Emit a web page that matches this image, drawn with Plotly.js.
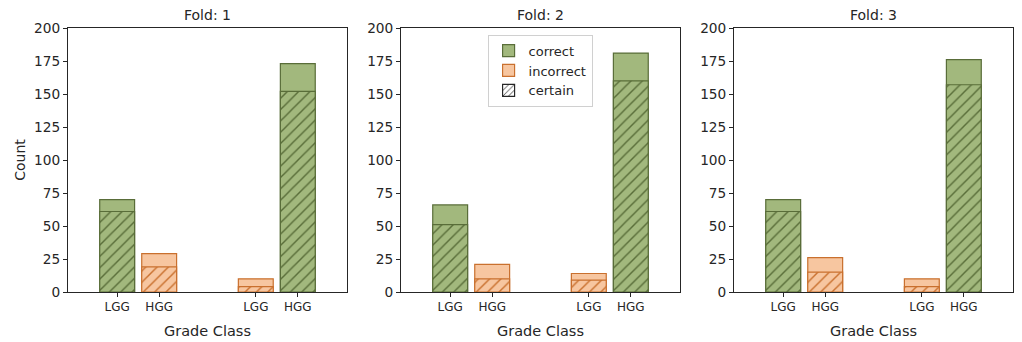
<!DOCTYPE html>
<html>
<head>
<meta charset="utf-8">
<script src="https://cdn.plot.ly/plotly-3.0.1.min.js"></script>
<style>
  html, body { margin: 0; padding: 0; background: #fff; }
  #chart { width: 1022px; height: 342px; }
</style>
</head>
<body>
<div id="chart"></div>
<script>
// Per-fold prediction counts, bars ordered as true LGG -> (LGG, HGG), true HGG -> (LGG, HGG)
const foldTitles = ['Fold: 1', 'Fold: 2', 'Fold: 3'];
const tickLabels = ['LGG', 'HGG', 'LGG', 'HGG'];
const isCorrect = [true, false, false, true];

const totalFold1 = [70, 29, 10, 173];
const totalFold2 = [66, 21, 14, 181];
const totalFold3 = [70, 26, 10, 176];

const certainFold1 = [61, 19, 4, 152];
const certainFold2 = [51, 10, 9, 160];
const certainFold3 = [61, 15, 4, 157];

const totals = [totalFold1, totalFold2, totalFold3];
const certains = [certainFold1, certainFold2, certainFold3];

// bar layout on the numeric x axis
const barPos = [0, 1, 3.3, 4.3];
const barWidth = 0.83;

const style = {
  correct:   { fill: '#a2b87d', edge: '#596d39' },
  incorrect: { fill: '#f7c6a0', edge: '#c9702e' }
};

const axisLine = '#262626';
const textColor = '#262626';
const font = 'DejaVu Sans, sans-serif';

function pick(arr, want) {
  return arr.filter((_, i) => isCorrect[i] === want);
}

const traces = [];
const layout = {
  width: 1022,
  height: 342,
  margin: { l: 68, r: 9, t: 28, b: 50 },
  paper_bgcolor: '#fff',
  plot_bgcolor: '#fff',
  barmode: 'overlay',
  font: { family: font, color: textColor, size: 13 },
  showlegend: true,
  legend: {
    x: 0.444, y: 0.975, xanchor: 'left', yanchor: 'top',
    bgcolor: 'rgba(255,255,255,0.9)', bordercolor: '#d0d0d0', borderwidth: 1,
    font: { size: 13, family: font, color: textColor },
    tracegroupgap: 0, itemwidth: 30
  },
  annotations: []
};

const domains = [[0, 0.2952], [0.3524, 0.6476], [0.7048, 1]];

foldTitles.forEach((title, f) => {
  const xa = f === 0 ? 'x' : 'x' + (f + 1);
  const ya = f === 0 ? 'y' : 'y' + (f + 1);
  const first = f === 1;

  // full-height bars (all predictions)
  ['correct', 'incorrect'].forEach(kind => {
    const want = kind === 'correct';
    traces.push({
      type: 'bar', xaxis: xa, yaxis: ya,
      x: pick(barPos, want), y: pick(totals[f], want),
      width: barWidth,
      name: kind, legendgroup: kind, showlegend: first,
      marker: { color: style[kind].fill, line: { color: style[kind].edge, width: 1.2 } },
      hoverinfo: 'y'
    });
  });
  // hatched bars overlaid for the certain predictions
  ['correct', 'incorrect'].forEach(kind => {
    const want = kind === 'correct';
    traces.push({
      type: 'bar', xaxis: xa, yaxis: ya,
      x: pick(barPos, want), y: pick(certains[f], want),
      width: barWidth,
      name: kind + ' (certain)', showlegend: false,
      marker: {
        color: style[kind].fill,
        line: { color: style[kind].edge, width: 1.2 },
        pattern: { shape: '/', fgcolor: style[kind].edge, bgcolor: style[kind].fill, size: 8, solidity: 0.18 }
      },
      hoverinfo: 'y'
    });
  });

  const xKey = f === 0 ? 'xaxis' : 'xaxis' + (f + 1);
  const yKey = f === 0 ? 'yaxis' : 'yaxis' + (f + 1);
  layout[xKey] = {
    domain: domains[f], anchor: ya,
    range: [-1.17, 5.47],
    tickmode: 'array', tickvals: barPos, ticktext: tickLabels,
    tickfont: { size: 12, family: font, color: textColor },
    ticks: 'outside', ticklen: 4, tickcolor: axisLine, tickwidth: 1,
    showline: true, mirror: true, linecolor: axisLine, linewidth: 1,
    showgrid: false, zeroline: false,
    title: { text: 'Grade Class', font: { size: 14.5, family: font, color: textColor }, standoff: 12 }
  };
  layout[yKey] = {
    domain: [0, 1], anchor: xa,
    range: [0, 200], tickmode: 'linear', tick0: 0, dtick: 25,
    tickfont: { size: 13.7, family: font, color: textColor },
    ticks: 'outside', ticklen: 4, tickcolor: axisLine, tickwidth: 1,
    showline: true, mirror: true, linecolor: axisLine, linewidth: 1,
    showgrid: false, zeroline: false
  };
  if (f === 0) {
    layout[yKey].title = { text: 'Count', font: { size: 14, family: font, color: textColor }, standoff: 5 };
  }
  layout.annotations.push({
    text: title, xref: xa + ' domain', yref: 'paper', x: 0.5, y: 1,
    xanchor: 'center', yanchor: 'bottom', yshift: 3, showarrow: false,
    font: { size: 14, family: font, color: textColor }
  });
});

// legend key for the hatched "certain" portion
traces.push({
  type: 'bar', xaxis: 'x2', yaxis: 'y2',
  x: [null], y: [null],
  name: 'certain', showlegend: true,
  marker: {
    color: '#ffffff',
    line: { color: '#262626', width: 1.2 },
    pattern: { shape: '/', fgcolor: '#262626', bgcolor: '#ffffff', size: 5, solidity: 0.2 }
  }
});

Plotly.newPlot('chart', traces, layout, { displayModeBar: false, staticPlot: true });
</script>
</body>
</html>
